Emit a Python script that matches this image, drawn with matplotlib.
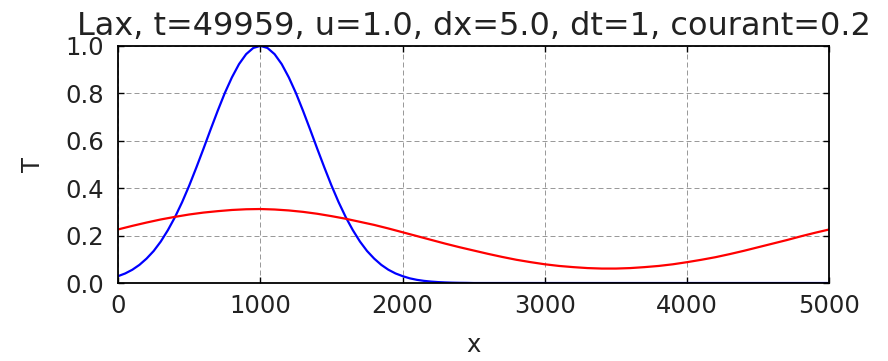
import matplotlib
matplotlib.use("Agg")
import matplotlib.pyplot as plt

# initial gaussian pulse (blue), sampled every 50 m up to 2500, then flat
x_init = list(range(0, 2501, 50)) + [5000]
T_init = [0.029, 0.0404, 0.056, 0.0766, 0.103, 0.135, 0.175, 0.223, 0.278, 0.341,
          0.411, 0.487, 0.566, 0.647, 0.726, 0.801, 0.867, 0.923, 0.965, 0.991,
          1.000, 0.991, 0.965, 0.923, 0.867, 0.801, 0.726, 0.647, 0.566, 0.487,
          0.411, 0.341, 0.278, 0.223, 0.175, 0.135, 0.103, 0.0766, 0.056, 0.0404,
          0.029, 0.0198, 0.0135, 0.0091, 0.006, 0.0039, 0.0025, 0.0015, 0.0009, 0.0006,
          0.0, 0.0]

# Lax solution after t=49959 (red), every 100 m
x_lax = list(range(0, 5001, 100))
T_lax = [0.226, 0.241, 0.255, 0.268, 0.279, 0.289, 0.297, 0.303, 0.308, 0.311,
         0.312, 0.310, 0.306, 0.300, 0.292, 0.282, 0.271, 0.258, 0.245, 0.230,
         0.214, 0.198, 0.182, 0.166, 0.151, 0.137, 0.123, 0.110, 0.098, 0.088,
         0.079, 0.072, 0.067, 0.063, 0.061, 0.061, 0.063, 0.067, 0.072, 0.079,
         0.088, 0.098, 0.109, 0.122, 0.136, 0.151, 0.166, 0.181, 0.197, 0.212, 0.226]

xticks = [0, 1000, 2000, 3000, 4000, 5000]
yticks = [0.0, 0.2, 0.4, 0.6, 0.8, 1.0]

plt.rcParams.update({
    "font.family": "DejaVu Sans",
    "xtick.direction": "in",
    "ytick.direction": "in",
    "xtick.top": True,
    "ytick.right": True,
    "xtick.major.size": 4,
    "ytick.major.size": 4,
})

fig = plt.figure(figsize=(8.88, 3.61), dpi=100)
ax = fig.add_axes([0.133, 0.216, 0.801, 0.657])

ax.plot(x_init, T_init, color="b", linewidth=1.6)
ax.plot(x_lax, T_lax, color="r", linewidth=1.6)

ax.set_xlim(0, 5000)
ax.set_ylim(0, 1.0)
ax.set_xticks(xticks)
ax.set_yticks(yticks)
ax.set_yticklabels([f"{v:.1f}" for v in yticks])
ax.tick_params(labelsize=17.5, width=1, color="k", labelcolor="#222222")
ax.tick_params(axis="x", pad=8)
ax.tick_params(axis="y", pad=10)
for s in ax.spines.values():
    s.set_linewidth(1.3)
    s.set_color("k")

ax.grid(True, color="#9a9a9a", linestyle=(0, (5, 3)), linewidth=0.72)
ax.set_xlabel("x", fontsize=17.5, color="#222222", labelpad=11)
ax.set_ylabel("T", fontsize=17.5, color="#222222", labelpad=15)
ax.set_title("Lax, t=49959, u=1.0, dx=5.0, dt=1, courant=0.2",
             fontsize=23, pad=8, color="#222222")

fig.savefig("out.png", dpi=100, facecolor="white")
